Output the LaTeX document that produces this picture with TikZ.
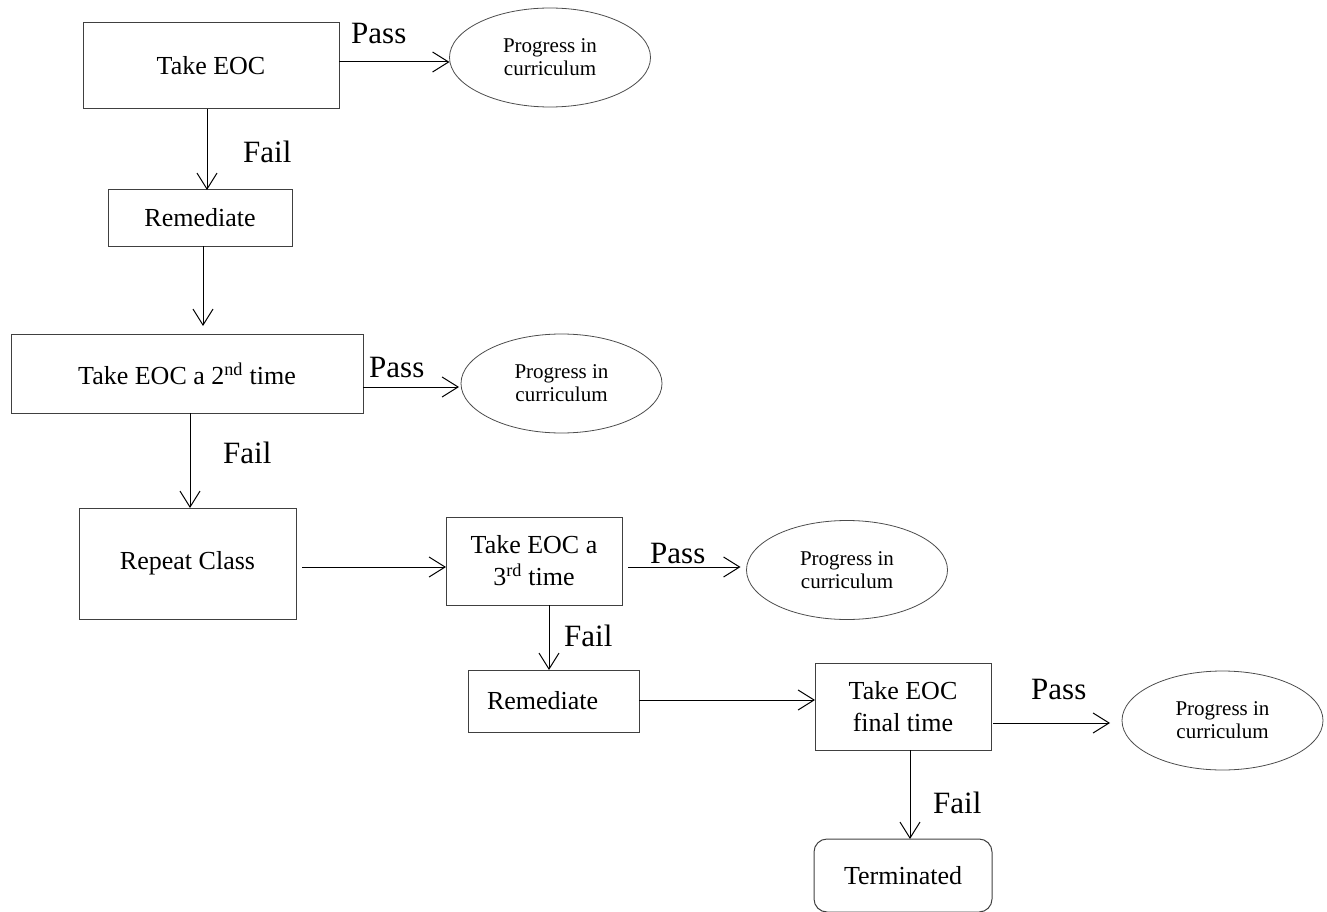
\documentclass[tikz,border=0pt]{standalone}
\usepackage{fontspec}
\setmainfont{Liberation Serif}
\usetikzlibrary{shapes.geometric,arrows.meta}
\begin{document}
\begin{tikzpicture}[x=1pt,y=-1pt,
  box/.style={draw=black!75, line width=1pt, rectangle, inner sep=0pt, outer sep=0pt, align=center,
    font=\fontsize{26}{32}\selectfont},
  oval/.style={draw=black!70, line width=0.8pt, ellipse, inner sep=0pt, outer sep=0pt, align=center,
    minimum width=201pt, minimum height=99pt, font=\fontsize{21}{23}\selectfont},
  lbl/.style={anchor=base west, inner sep=0pt, font=\fontsize{31}{31}\selectfont},
  arr/.style={line width=1pt, -{Straight Barb[length=16pt,width=20pt,line width=1pt]}}]
\useasboundingbox (0,0) rectangle (1327,912);

% boxes
\node[box, minimum width=256pt, minimum height=86pt] (box1) at (211,66) {Take EOC};
\node[box, minimum width=184pt, minimum height=56pt] (rem1) at (200,218) {Remediate};
\node[box, minimum width=352pt, minimum height=79pt] (box3) at (187,373.5) {Take EOC a 2\textsuperscript{nd} time};
\node[box, minimum width=217pt, minimum height=111pt] (rep) at (187.5,563.5) {Repeat Class};
\node[box, minimum width=176pt, minimum height=88pt] (take3) at (534,561) {Take EOC a\\3\textsuperscript{rd} time};
\node[box, minimum height=62pt, text width=133pt, inner xsep=19pt, align=left] (rem2) at (553.5,701) {Remediate};
\node[box, minimum width=176pt, minimum height=87pt] (final) at (903,706.5) {Take EOC\\final time};
\node[box, rounded corners=13pt, minimum width=178pt, minimum height=73pt] (term) at (903,875.5) {Terminated};

% ellipses
\node[oval] (ell1) at (550,57.5) {Progress in\\curriculum};
\node[oval] (ell2) at (561.5,383.5) {Progress in\\curriculum};
\node[oval] (ell3) at (847,570) {Progress in\\curriculum};
\node[oval] (ell4) at (1222.5,720.5) {Progress in\\curriculum};

% labels
\node[lbl] (p1) at (351,44) {Pass};
\node[lbl] (p2) at (369,377) {Pass};
\node[lbl] (p3) at (650,563) {Pass};
\node[lbl] (p4) at (1031,699) {Pass};
\node[lbl] (f1) at (243,163) {Fail};
\node[lbl] (f2) at (223,463) {Fail};
\node[lbl] (f3) at (564,646) {Fail};
\node[lbl] (f4) at (933,813) {Fail};

% connectors
\draw[arr] ([yshift=4pt]box1.east) -- ([yshift=4pt]box1.east -| ell1.west);
\draw[arr] ([xshift=-4pt]box1.south) -- ([xshift=-4pt]box1.south |- rem1.north);
\draw[arr, shorten >=8pt] ([xshift=3pt]rem1.south) -- ([xshift=3pt]rem1.south |- box3.north);
\draw[arr, shorten >=2pt] ([yshift=-13.5pt]box3.east) -- ([yshift=-13.5pt]box3.east -| ell2.west);
\draw[arr] ([xshift=3pt]box3.south) -- ([xshift=3pt]box3.south |- rep.north);
\draw[arr, shorten <=6pt] ([yshift=-3.5pt]rep.east) -- ([yshift=-3.5pt]rep.east -| take3.west);
\draw[arr, shorten <=6pt, shorten >=6pt] ([yshift=-6pt]take3.east) -- ([yshift=-6pt]take3.east -| ell3.west);
\draw[arr] ([xshift=15pt]take3.south) -- ([xshift=15pt]take3.south |- rem2.north);
\draw[arr] ([yshift=1pt]rem2.east) -- ([yshift=1pt]rem2.east -| final.west);
\draw[arr, shorten <=2pt, shorten >=12pt] ([yshift=-16.5pt]final.east) -- ([yshift=-16.5pt]final.east -| ell4.west);
\draw[arr] ([xshift=7pt]final.south) -- ([xshift=7pt]final.south |- term.north);
\end{tikzpicture}
\end{document}
